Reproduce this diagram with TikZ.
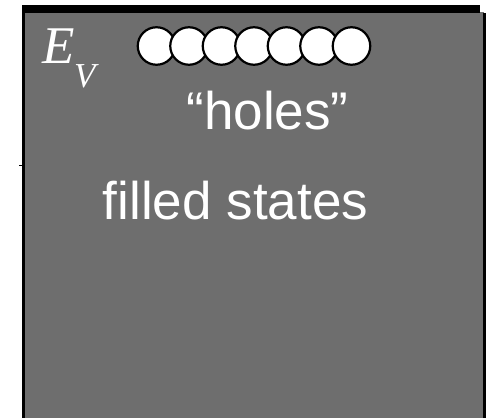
\documentclass[tikz,border=0pt]{standalone}
\usepackage{fontspec}
\setmainfont{Liberation Sans}
\newfontfamily\serifit{Liberation Serif}
\definecolor{bandgray}{RGB}{110,110,110}
\tikzset{
  holedot/.style={circle, draw=black, fill=white, line width=2.2pt, minimum size=37.5pt, inner sep=0pt},
  bigtext/.style={text=white, inner sep=0pt, anchor=base, font=\fontsize{53}{53}\selectfont},
}
\begin{document}
\begin{tikzpicture}[x=1pt,y=1pt]
\useasboundingbox (0,0) rectangle (490,418);
% band
\fill[bandgray] (24,0) rectangle (484,406);
\fill[black] (22,0) rectangle (25,413);
\fill[black] (483,0) rectangle (486,405);
\fill[black] (22,405) rectangle (480,413);
\draw[line width=1.5pt] (19,252.5) -- (24,252.5);
% label E_V
\node[anchor=base west, inner sep=0pt, text=white] (ev) at (42,354)
  {\serifit\itshape\fontsize{53}{53}\selectfont E};
\node[anchor=base west, inner sep=0pt, text=white] (evsub) at (74,330)
  {\serifit\itshape\fontsize{35}{35}\selectfont V};
% holes
\foreach \i in {0,...,6} {
  \node[holedot] (h\i) at ({156.5+32.5*\i},372) {};
}
\node[bigtext] (holes) at (267.5,288) {“holes”};
\node[bigtext] (filled) at (235.5,198) {filled states};
\end{tikzpicture}
\end{document}
